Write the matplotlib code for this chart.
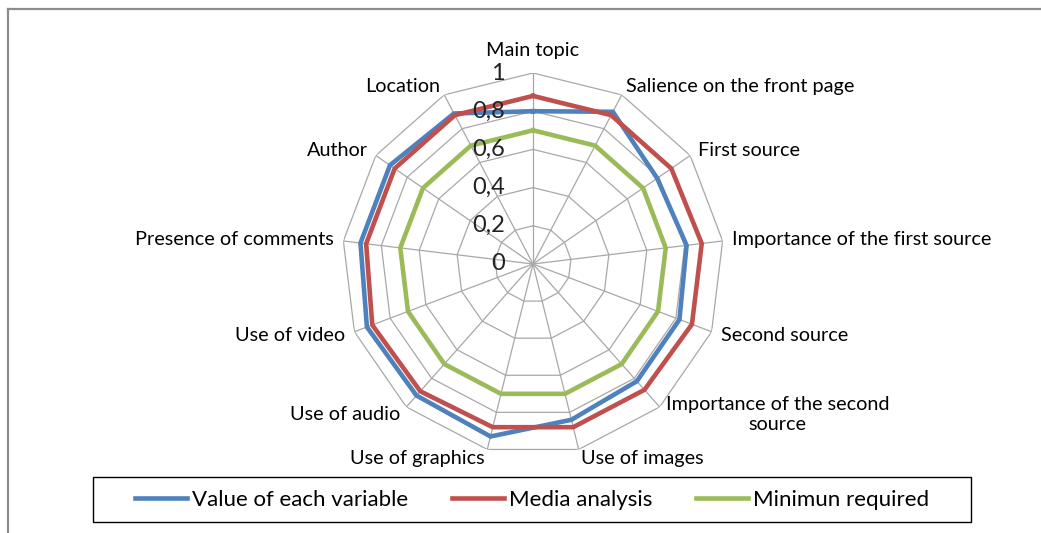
import numpy as np
import matplotlib.pyplot as plt
from matplotlib.lines import Line2D
from matplotlib.patches import Rectangle

plt.rcParams['font.family'] = ['Lato', 'DejaVu Sans']

categories = ['Main topic', 'Salience on the front page', 'First source',
              'Importance of the first source', 'Second source',
              'Importance of the second\nsource', 'Use of images',
              'Use of graphics', 'Use of audio', 'Use of video',
              'Presence of comments', 'Author', 'Location']

value_each = [0.80, 0.90, 0.79, 0.81, 0.82, 0.82, 0.84, 0.93, 0.92, 0.93, 0.91, 0.91, 0.89]
media = [0.88, 0.88, 0.88, 0.89, 0.89, 0.88, 0.88, 0.88, 0.89, 0.90, 0.88, 0.88, 0.88]
minimum = [0.70, 0.70, 0.70, 0.70, 0.70, 0.70, 0.70, 0.70, 0.70, 0.70, 0.70, 0.70, 0.70]

r_ticks = [0, 0.2, 0.4, 0.6, 0.8, 1.0]
r_labels = ['0', '0,2', '0,4', '0,6', '0,8', '1']

series = [
    ('Value of each variable', value_each, '#4F81BD'),
    ('Media analysis', media, '#C0504D'),
    ('Minimun required', minimum, '#9BBB59'),
]

W, H = 1041, 533
fig = plt.figure(figsize=(W / 100, H / 100), dpi=100)

# radar area: centre (533, 264) px, radius 191 px
cx, cy, R = 533, 264, 191
ax = fig.add_axes([(cx - R) / W, (H - cy - R) / H, 2 * R / W, 2 * R / H],
                  projection='polar')
ax.set_theta_offset(np.pi / 2)
ax.set_theta_direction(-1)
ax.set_ylim(0, 1)
ax.grid(False)
ax.spines['polar'].set_visible(False)
ax.set_xticks([])
ax.set_yticks([])
ax.patch.set_alpha(0)

n = len(categories)
angles = np.arange(n) * 2 * np.pi / n
closed = np.append(angles, angles[0])

grid_c = '#a8a8a8'
# polygon rings
for r in r_ticks[1:]:
    ax.plot(closed, [r] * (n + 1), color=grid_c, lw=0.9, zorder=1)
# spokes
for a in angles:
    ax.plot([a, a], [0, 1], color=grid_c, lw=0.9, zorder=1)

for name, vals, col in series:
    ax.plot(closed, vals + vals[:1], color=col, lw=3.3, label=name,
            solid_joinstyle='miter', zorder=3)

# category labels
lab_fs = 14.3
for a, lab in zip(angles, categories):
    deg = np.degrees(a)
    if deg < 1:
        ax.text(a, 1.12, lab, ha='center', va='center', fontsize=lab_fs)
    elif deg < 180:
        ax.text(a, 1.05, lab, ha='left', va='center', fontsize=lab_fs,
                multialignment='center')
    else:
        ax.text(a, 1.05, lab, ha='right', va='center', fontsize=lab_fs)

# radial value labels along the top spoke
for r, lab in zip(r_ticks, r_labels):
    ax.annotate(lab, xy=(0, r), xytext=(-28, 0), textcoords='offset pixels',
                ha='right', va='center', fontsize=17, color='#222222')

# legend box
fig.patches.append(Rectangle((93 / W, (H - 522) / H), (971 - 93) / W, 45 / H,
                             transform=fig.transFigure, fill=False,
                             edgecolor='black', lw=1.0))
handles = [Line2D([], [], color=c, lw=3.3) for _, _, c in series]
fig.legend(handles, [s[0] for s in series], loc='center',
           bbox_to_anchor=(532 / W, (H - 499.5) / H), ncol=3, frameon=False,
           fontsize=16, handlelength=2.35, handletextpad=0.22, columnspacing=1.95)

# chart area border (top and left)
fig.add_artist(Line2D([7.5 / W, 1], [(H - 9) / H] * 2, color='#8c8c8c', lw=1.6,
                      transform=fig.transFigure))
fig.add_artist(Line2D([7.5 / W] * 2, [0, (H - 9) / H], color='#8c8c8c', lw=1.6,
                      transform=fig.transFigure))

plt.savefig('out.png', dpi=100)
